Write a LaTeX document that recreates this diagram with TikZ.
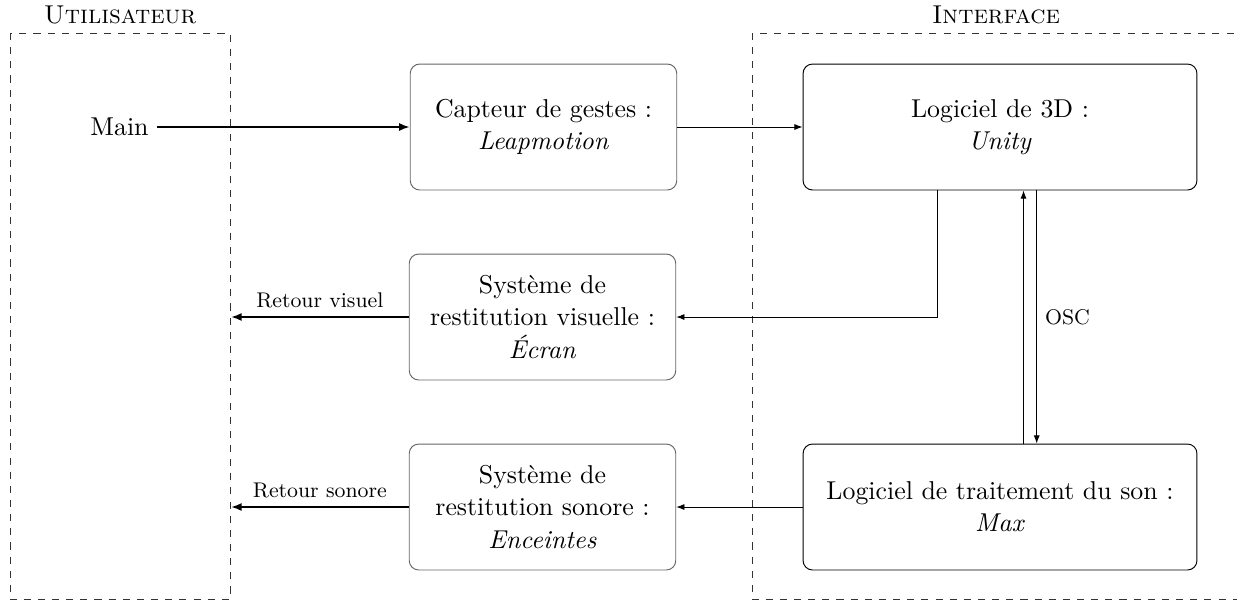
\documentclass[tikz,border=0pt]{standalone}
\usetikzlibrary{calc,arrows.meta}
\begin{document}
\begin{tikzpicture}[x=0.424pt,y=-0.424pt,
  base/.style={font=\fontsize{10.95}{13.6}\selectfont},
  lab/.style={font=\fontsize{9}{11}\selectfont},
  litebox/.style={base, draw=black!60, rounded corners=4pt, align=center,
    minimum width=113pt, minimum height=53.4pt},
  darkbox/.style={base, draw=black, rounded corners=4pt, align=center,
    minimum width=167pt, minimum height=53.4pt},
  zone/.style={draw=black!80, dashed},
  thinarr/.style={-{Latex[length=3.5pt,width=2.6pt]}, line width=0.4pt},
  thickarr/.style={-{Latex[length=4.5pt,width=3.4pt]}, thick}
]
\useasboundingbox (0,0) rectangle (1237,600);
% zones
\draw[zone] (10,33) rectangle (230,599.5);
\draw[zone] (752,33) rectangle (1240,599.5);
\node[base] (tu) at (120,15) {\textsc{Utilisateur}};
\node[base] (ti) at (996,15) {\textsc{Interface}};
% nodes
\node[base] (main) at (119.5,127) {Main};
\node[litebox] (cap) at (543.5,127) {Capteur de gestes :\\\textit{Leapmotion}};
\node[darkbox] (u3d) at (1000,127) {Logiciel de 3D :\\\textit{Unity}};
\node[litebox] (vis) at (542.5,317) {Système de\\restitution visuelle :\\\textit{Écran}};
\node[litebox] (son) at (542.5,507) {Système de\\restitution sonore :\\\textit{Enceintes}};
\node[darkbox] (max) at (1000,507) {Logiciel de traitement du son :\\\textit{Max}};
\coordinate (uv) at (231,317);
\coordinate (us) at (231,507);
% connectors
\draw[thickarr] (main) -- (cap);
\draw[thinarr] (cap) -- (u3d);
\draw[thinarr] ($(u3d.south)+(-63,0)$) |- (vis.east);
\draw[thickarr] (vis) -- node[lab, above] {Retour visuel} (uv);
\draw[thinarr] (max) -- (son);
\draw[thickarr] (son) -- node[lab, above] {Retour sonore} (us);
\draw[thinarr] ($(max.north)+(23.5,0)$) -- ($(u3d.south)+(23.5,0)$);
\draw[thinarr] ($(u3d.south)+(36.7,0)$) -- node[lab, right] {OSC} ($(max.north)+(36.7,0)$);
\end{tikzpicture}
\end{document}
